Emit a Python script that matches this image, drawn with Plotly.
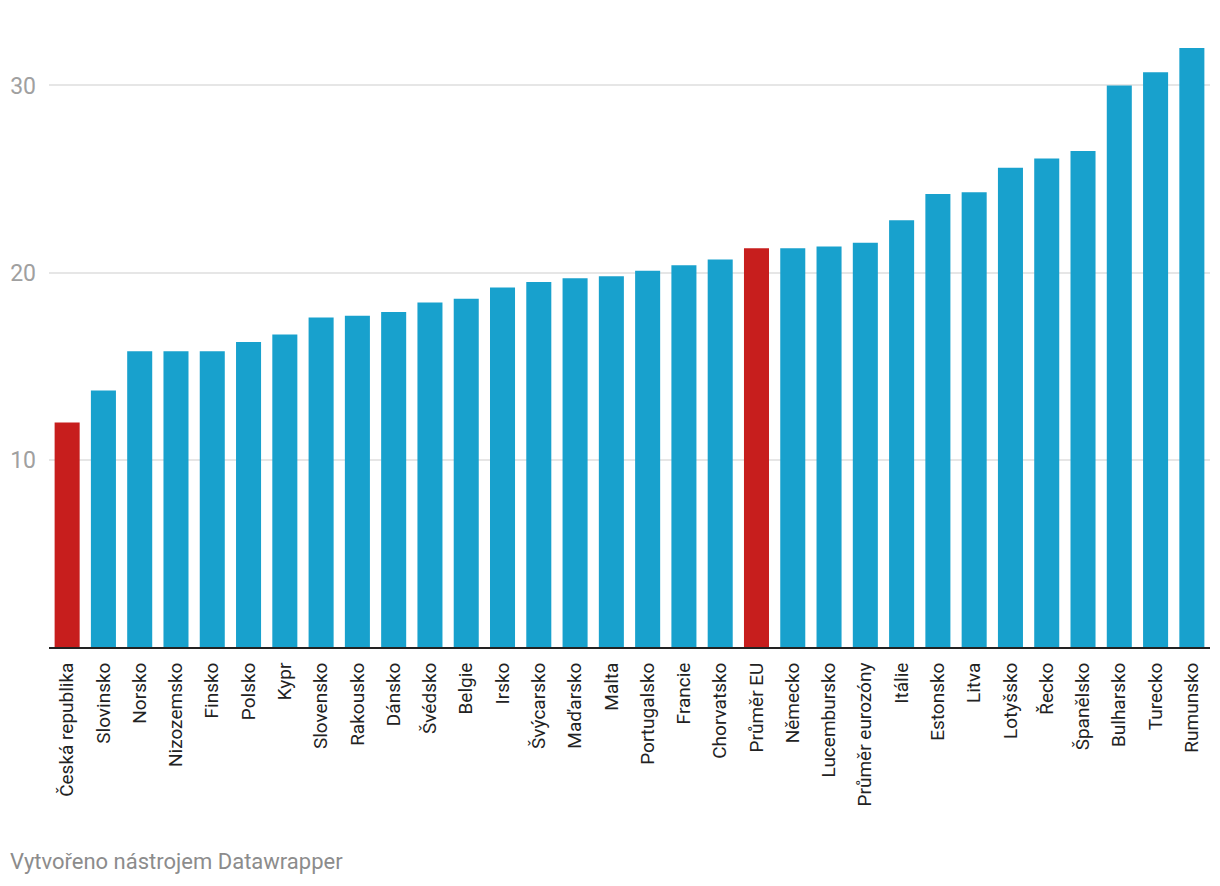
import plotly.graph_objects as go

countries = ["Česká republika", "Slovinsko", "Norsko", "Nizozemsko", "Finsko", "Polsko", "Kypr",
             "Slovensko", "Rakousko", "Dánsko", "Švédsko", "Belgie", "Irsko", "Švýcarsko",
             "Maďarsko", "Malta", "Portugalsko", "Francie", "Chorvatsko", "Průměr EU", "Německo",
             "Lucembursko", "Průměr eurozóny", "Itálie", "Estonsko", "Litva", "Lotyšsko", "Řecko",
             "Španělsko", "Bulharsko", "Turecko", "Rumunsko"]
values = [12.0, 13.7, 15.8, 15.8, 15.8, 16.3, 16.7, 17.6, 17.7, 17.9, 18.4, 18.6, 19.2, 19.5,
          19.7, 19.8, 20.1, 20.4, 20.7, 21.3, 21.3, 21.4, 21.6, 22.8, 24.2, 24.3, 25.6, 26.1,
          26.5, 30.0, 30.7, 32.0]
highlight = ["Česká republika", "Průměr EU"]
yticks = [10, 20, 30]
footer = "Vytvořeno nástrojem Datawrapper"

BLUE = "#18a1cd"
RED = "#c71e1d"
colors = [RED if c in highlight else BLUE for c in countries]

fig = go.Figure(go.Bar(x=countries, y=values, marker=dict(color=colors, line=dict(width=0)),
                       hoverinfo="x+y"))

# page body has an 8px margin, so the figure is offset by 8px
W, H = 1212, 878
ml, mt = 41, 40
plot_right = 1202
plot_bottom = 639.3
fig.update_layout(
    width=W, height=H,
    margin=dict(l=ml, r=W - plot_right, t=mt, b=H - plot_bottom, autoexpand=False),
    paper_bgcolor="white", plot_bgcolor="white",
    bargap=0.31,
    font=dict(family="Roboto", color="#333333"),
    showlegend=False,
)
fig.update_xaxes(
    type="category", tickangle=-90, tickfont=dict(size=19, color="#222222", family="Roboto"),
    showline=True, linecolor="#222222", linewidth=2, ticks="", showgrid=False,
    ticklabelstandoff=6,
)
fig.update_yaxes(
    range=[0, 32], tickvals=yticks, ticktext=[str(v) for v in yticks],
    tickfont=dict(size=23, color="#a0a0a0", family="Roboto"),
    showgrid=True, gridcolor="#e6e6e6", gridwidth=2, zeroline=False, showline=False,
    ticks="", ticklabelstandoff=12,
)
plot_w = plot_right - ml
plot_h = plot_bottom - mt
fig.add_annotation(text=footer, xref="paper", yref="paper",
                   x=(0 - ml) / plot_w, y=-(854 - plot_bottom) / plot_h,
                   xanchor="left", yanchor="middle", showarrow=False,
                   font=dict(size=22, color="#8c8c8c", family="Roboto"))

fig.write_html("out.html")
